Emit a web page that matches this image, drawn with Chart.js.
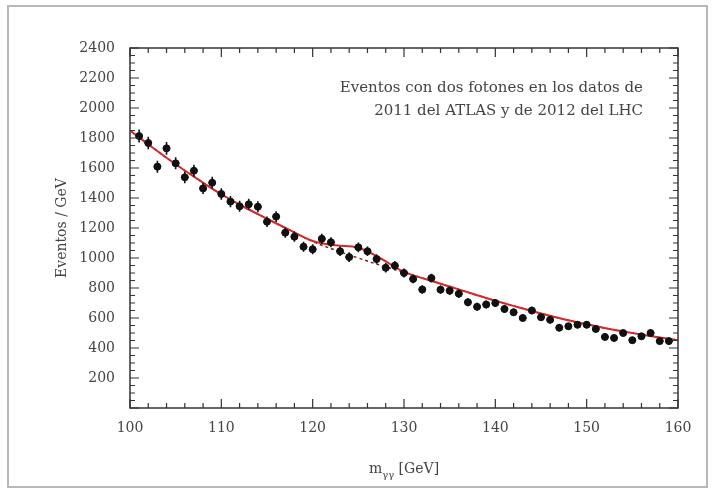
<!DOCTYPE html>
<html>
<head>
<meta charset="utf-8">
<title>Eventos con dos fotones</title>
<script src="https://cdn.jsdelivr.net/npm/chart.js@4.4.1/dist/chart.umd.min.js"></script>
<style>
  html, body { margin: 0; padding: 0; background: #fff; }
  #wrap { width: 714px; height: 495px; }
</style>
</head>
<body>
<div id="wrap"><canvas id="mycanvas" width="714" height="495"></canvas></div>
<script>
// diphoton mass bins (GeV) and events / GeV
var massBins = [101, 102, 103, 104, 105, 106, 107, 108, 109, 110,
	111, 112, 113, 114, 115, 116, 117, 118, 119, 120,
	121, 122, 123, 124, 125, 126, 127, 128, 129, 130,
	131, 132, 133, 134, 135, 136, 137, 138, 139, 140,
	141, 142, 143, 144, 145, 146, 147, 148, 149, 150,
	151, 152, 153, 154, 155, 156, 157, 158, 159];
var eventsPerGeV = [1813, 1767, 1609, 1731, 1631, 1538, 1582, 1464, 1502, 1427,
	1376, 1345, 1358, 1342, 1242, 1276, 1169, 1142, 1075, 1058,
	1128, 1105, 1045, 1006, 1071, 1045, 993, 935, 949, 900,
	860, 790, 866, 789, 782, 762, 705, 675, 690, 700,
	660, 638, 600, 650, 605, 588, 535, 545, 555, 555,
	527, 474, 467, 500, 452, 478, 500, 446, 446];
var statErrors = [43, 42, 40, 42, 40, 39, 40, 38, 39, 38,
	37, 37, 37, 37, 35, 36, 34, 34, 33, 33,
	34, 33, 32, 32, 33, 32, 32, 31, 31, 30,
	29, 28, 29, 28, 28, 28, 27, 26, 26, 26,
	26, 25, 24, 25, 25, 24, 23, 23, 24, 24,
	23, 22, 22, 22, 21, 22, 22, 21, 21];

// signal + background fit (solid) and background only (dashed)
var fitMass = [100, 102.5, 105, 107.5, 110, 112.5, 115, 117.5, 120, 122.5, 125, 127.5, 130,
	132.5, 135, 137.5, 140, 142.5, 145, 147.5, 150, 152.5, 155, 157.5, 160];
var fitSignalBkg = [1850, 1735, 1625, 1522, 1425, 1340, 1262, 1186, 1113, 1085, 1068, 995, 907,
	857, 810, 762, 715, 672, 630, 592, 558, 527, 500, 475, 452];
var fitBkg = [1850, 1735, 1625, 1522, 1425, 1340, 1262, 1185, 1110, 1052, 1000, 950, 905,
	857, 810, 762, 715, 672, 630, 592, 558, 527, 500, 475, 452];

var yTicks = [0, 200, 400, 600, 800, 1000, 1200, 1400, 1600, 1800, 2000, 2200, 2400];
var xTicks = [100, 110, 120, 130, 140, 150, 160];
var noteLines = ['Eventos con dos fotones en los datos de', '2011 del ATLAS y de 2012 del LHC'];

var serif = '"DejaVu Serif", "Liberation Serif", serif';

function pairs(xs, ys) {
	var out = [];
	for (var i in xs) out.push({x: xs[i], y: ys[i]});
	return out;
}

var framePlugin = {
	id: 'frame',
	beforeDraw: function(chart) {
		var ctx = chart.ctx;
		ctx.save();
		ctx.fillStyle = '#fff';
		ctx.fillRect(0, 0, chart.width, chart.height);
		ctx.strokeStyle = '#b8b8b8';
		ctx.lineWidth = 2;
		ctx.strokeRect(8, 6, 699, 481);
		ctx.restore();
	},
	afterDatasetsDraw: function(chart) {
		// error bars
		var ctx = chart.ctx, xs = chart.scales.x, ys = chart.scales.y;
		ctx.save();
		ctx.strokeStyle = '#111';
		ctx.lineWidth = 1.6;
		for (var i = 0; i < massBins.length; i++) {
			var px = xs.getPixelForValue(massBins[i]);
			var top = ys.getPixelForValue(eventsPerGeV[i] + statErrors[i]);
			var bot = ys.getPixelForValue(eventsPerGeV[i] - statErrors[i]);
			var py = ys.getPixelForValue(eventsPerGeV[i]);
			ctx.beginPath();
			ctx.moveTo(px, top); ctx.lineTo(px, bot);
			ctx.moveTo(xs.getPixelForValue(massBins[i] - 0.4), py);
			ctx.lineTo(xs.getPixelForValue(massBins[i] + 0.4), py);
			ctx.stroke();
		}
		ctx.restore();
	},
	afterDraw: function(chart) {
		var ctx = chart.ctx, a = chart.chartArea, xs = chart.scales.x, ys = chart.scales.y;
		ctx.save();
		ctx.strokeStyle = '#333';
		ctx.lineWidth = 1.5;
		ctx.strokeRect(a.left, a.top, a.right - a.left, a.bottom - a.top);
		ctx.lineWidth = 1.2;
		ctx.beginPath();
		// inward ticks on x (bottom and top)
		for (var m = 100; m <= 160; m += 2) {
			var px = xs.getPixelForValue(m);
			var len = (m % 10 === 0) ? 9 : 5;
			ctx.moveTo(px, a.bottom); ctx.lineTo(px, a.bottom - len);
			ctx.moveTo(px, a.top); ctx.lineTo(px, a.top + len);
		}
		// inward ticks on y (left and right)
		for (var v = 0; v <= 2400; v += 50) {
			var py = ys.getPixelForValue(v);
			var l2 = (v % 200 === 0) ? 9 : 5;
			ctx.moveTo(a.left, py); ctx.lineTo(a.left + l2, py);
			ctx.moveTo(a.right, py); ctx.lineTo(a.right - l2, py);
		}
		ctx.stroke();

		// axis titles
		ctx.fillStyle = '#444';
		ctx.font = '14px ' + serif;
		ctx.textBaseline = 'middle';
		var cx = (a.left + a.right) / 2;
		var w1 = ctx.measureText('m').width;
		ctx.font = '10px ' + serif;
		var w2 = ctx.measureText('\u03B3\u03B3').width;
		ctx.font = '14px ' + serif;
		var w3 = ctx.measureText(' [GeV]').width;
		var x0 = cx - (w1 + w2 + w3) / 2;
		ctx.textAlign = 'left';
		ctx.fillText('m', x0, 469);
		ctx.font = '10px ' + serif;
		ctx.fillText('\u03B3\u03B3', x0 + w1, 475);
		ctx.font = '14px ' + serif;
		ctx.fillText(' [GeV]', x0 + w1 + w2, 469);

		ctx.save();
		ctx.translate(62, (a.top + a.bottom) / 2);
		ctx.rotate(-Math.PI / 2);
		ctx.textAlign = 'center';
		ctx.fillText('Eventos / GeV', 0, 0);
		ctx.restore();

		// note in the upper right
		ctx.textAlign = 'right';
		ctx.font = '15px ' + serif;
		ctx.fillText(noteLines[0], 643, 88);
		ctx.fillText(noteLines[1], 643, 111);
		ctx.restore();
	}
};

var ctx = document.getElementById('mycanvas');

var chart = new Chart(ctx, {
	type: 'scatter',
	data: {
		datasets: [
			{
				label: 'Datos',
				data: pairs(massBins, eventsPerGeV),
				backgroundColor: '#111',
				borderColor: '#111',
				pointRadius: 3.5,
				pointStyle: 'circle',
				showLine: false
			},
			{
				label: 'Señal + fondo',
				data: pairs(fitMass, fitSignalBkg),
				borderColor: '#d42a2a',
				borderWidth: 2,
				pointRadius: 0,
				showLine: true,
				tension: 0.4
			},
			{
				label: 'Fondo',
				data: pairs(fitMass, fitBkg),
				borderColor: '#7a2222',
				borderWidth: 1.5,
				borderDash: [3, 3],
				pointRadius: 0,
				showLine: true,
				tension: 0.4
			}
		]
	},
	options: {
		responsive: false,
		animation: false,
		devicePixelRatio: 1,
		layout: { padding: { left: 10, right: 36, top: 48, bottom: 10 } },
		plugins: {
			legend: { display: false },
			tooltip: { enabled: false }
		},
		scales: {
			x: {
				type: 'linear',
				min: 100,
				max: 160,
				afterBuildTicks: function(s) { s.ticks = xTicks.map(function(v) { return {value: v}; }); },
				afterFit: function(s) { s.height = 77; },
				grid: { display: false },
				border: { display: false },
				ticks: {
					padding: 4,
					color: '#444',
					font: { family: serif, size: 14 },
					maxRotation: 0
				}
			},
			y: {
				min: 0,
				max: 2400,
				afterBuildTicks: function(s) { s.ticks = yTicks.map(function(v) { return {value: v}; }); },
				afterFit: function(s) { s.width = 120; },
				grid: { display: false },
				border: { display: false },
				ticks: {
					padding: 7,
					color: '#444',
					font: { family: serif, size: 14 },
					callback: function(v) { return v === 0 ? '' : v; }
				}
			}
		}
	},
	plugins: [framePlugin]
});
</script>
</body>
</html>
